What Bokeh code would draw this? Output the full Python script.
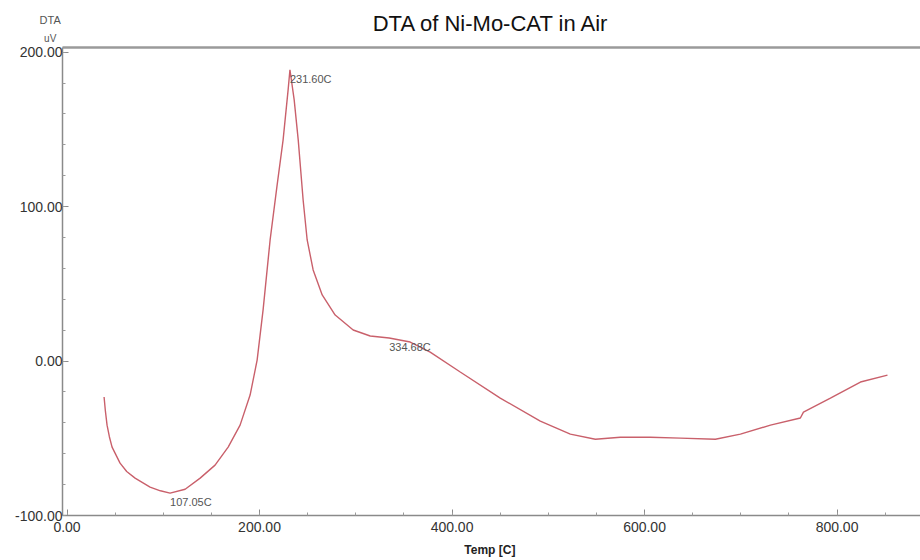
from bokeh.plotting import figure
from bokeh.models import (Range1d, FixedTicker, PrintfTickFormatter, LinearAxis,
                          Label, ColumnDataSource)
from bokeh.embed import file_html
from bokeh.resources import INLINE

# ---- data ----
temp_c = [38.5, 39.8, 41.6, 44.0, 46.8, 55.1, 62.0, 70.7, 86.3, 97.0, 107.05, 122.7,
          138.3, 153.8, 167.4, 179.8, 190.2, 197.5, 203.7, 211.0, 218.3, 224.5,
          229.7, 231.6, 236.0, 240.2, 245.3, 249.5, 255.7, 265.1, 278.6, 297.3,
          315.0, 334.68, 356.5, 377.3, 408.5, 450.1, 491.7, 522.9, 548.9, 574.8,
          606.0, 637.2, 673.6, 699.6, 730.8, 761.9, 765.1, 793.1, 824.3, 852.4]
dta_uv = [-23.3, -32.0, -41.5, -49.0, -55.7, -66.1, -71.5, -75.8, -81.6, -84.0, -85.5,
          -83.0, -75.8, -67.4, -55.7, -41.5, -22.0, 0.6, 33.1, 78.4, 114.1, 143.2,
          175.6, 188.6, 169.1, 143.2, 104.3, 78.4, 59.0, 42.8, 29.8, 20.1,
          16.2, 14.9, 12.3, 5.8, -7.1, -24.0, -38.9, -47.3, -50.6, -49.3,
          -49.3, -49.9, -50.6, -47.3, -41.5, -36.9, -33.1, -24.0, -13.6, -9.1]

peak_temps = [107.05, 231.60, 334.68]
peak_vals = [-85.5, 188.6, 14.9]
peak_labels = ["107.05C", "231.60C", "334.68C"]

x_ticks = [0, 200, 400, 600, 800]
y_ticks = [-100, 0, 100, 200]
x_minor = [i * 50 for i in range(0, 18)]
y_minor = [-100 + i * 20 for i in range(0, 16)]

title_text = "DTA of Ni-Mo-CAT in Air"
x_label = "Temp  [C]"
y_label_lines = ["DTA", "uV"]

FONT = "Liberation Sans"

p = figure(width=920, height=560, output_backend="svg", toolbar_location=None,
           x_range=Range1d(-4.7, 886.7), y_range=Range1d(-100, 203),
           min_border_left=60, min_border_right=0, min_border_top=47,
           min_border_bottom=45, background_fill_color="white",
           border_fill_color="white", outline_line_color=None)

p.title.text = title_text
p.title.align = "center"
p.title.text_font = FONT
p.title.text_font_size = "22px"
p.title.text_font_style = "normal"
p.title.text_color = "#111111"
p.title.standoff = 0

p.xgrid.visible = False
p.ygrid.visible = False

xax = p.below[0]
yax = p.left[0]

for ax in (xax, yax):
    ax.axis_line_color = "#8a8a8a"
    ax.axis_line_width = 1.5
    ax.major_tick_in = 6
    ax.major_tick_out = 0
    ax.minor_tick_in = 3
    ax.minor_tick_out = 0
    ax.major_tick_line_color = "#8a8a8a"
    ax.minor_tick_line_color = "#9a9a9a"
    ax.formatter = PrintfTickFormatter(format="%.2f")
    ax.major_label_text_font = FONT
    ax.major_label_text_font_size = "14px"
    ax.major_label_text_color = "#333333"

xax.ticker = FixedTicker(ticks=x_ticks, minor_ticks=x_minor)
yax.ticker = FixedTicker(ticks=y_ticks, minor_ticks=y_minor)
xax.major_label_standoff = 6
yax.major_label_standoff = 0

xax.axis_label = x_label
xax.axis_label_text_font = FONT
xax.axis_label_text_font_size = "12px"
xax.axis_label_text_font_style = "bold"
xax.axis_label_text_color = "#222222"
xax.axis_label_standoff = 8

# top border line
top = LinearAxis(ticker=FixedTicker(ticks=[]), major_label_text_font_size="0px",
                 axis_line_color="#9a9a9a", axis_line_width=2.5,
                 major_tick_line_color=None, minor_tick_line_color=None,
                 major_label_standoff=0)
p.add_layout(top, "above")

src = ColumnDataSource(data=dict(x=temp_c, y=dta_uv))
p.line("x", "y", source=src, line_color="#c9606b", line_width=1.4)

for t, v, s in zip(peak_temps, peak_vals, peak_labels):
    p.add_layout(Label(x=t, y=v, text=s, text_align="left", text_baseline="top",
                       y_offset=-3, text_font=FONT, text_font_size="11px",
                       text_color="#555555"))

# y unit label above the axis, placed in side panels (not clipped to the frame)
p.add_layout(Label(x=-17.5, y=221, text=y_label_lines[0], text_align="center",
                   text_baseline="middle", text_font=FONT, text_font_size="11px",
                   text_color="#555555"), "above")
p.add_layout(Label(x=-17.5, y=209, text=y_label_lines[1], text_align="center",
                   text_baseline="middle", text_font=FONT, text_font_size="10px",
                   text_color="#555555"), "left")

open("out.html", "w").write(file_html(p, INLINE))
